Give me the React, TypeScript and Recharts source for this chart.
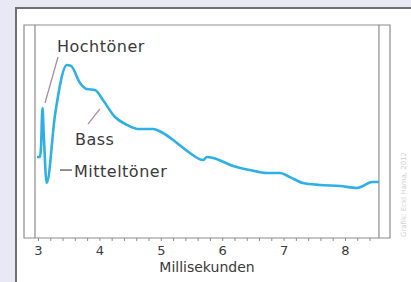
import React from 'react';
import {
  LineChart,
  Line,
  XAxis,
  YAxis,
  ReferenceArea,
  ReferenceLine,
} from 'recharts';

// Zeit in Millisekunden
const ms = [
  2.976, 3.024, 3.04, 3.065, 3.085, 3.134, 3.269, 3.464, 3.529, 3.676, 3.785,
  3.92, 4.05, 4.246, 4.441, 4.62, 4.865, 5.027, 5.255, 5.467, 5.679, 5.744,
  5.842, 6.168, 6.445, 6.721, 6.933, 7.096, 7.308, 7.585, 7.911, 8.188, 8.285,
  8.432, 8.546,
];
// Amplitude (relative Einheiten)
const amplitude = [
  38, 38, 42, 61, 49, 25.8, 57.7, 81.2, 80.8, 72.8, 70, 69.5, 64.8, 56.8, 53.1,
  51.2, 51.2, 49.3, 44.6, 39.9, 36.6, 38, 37.6, 33.8, 31.9, 30.5, 30.5, 28.6,
  25.8, 24.9, 24.4, 23.5, 24.4, 26.3, 26.3,
];
const majorTicks = [3, 4, 5, 6, 7, 8];
const minorTicks = Array.from({ length: 28 }, (_, i) => +(3 + i * 0.2).toFixed(1));

const data = ms.map((t, i) => ({ t, v: amplitude[i] }));

const FRAME = '#8c8c8c';
const NOTE = '#a3919f';
const FONT = '"DejaVu Sans", sans-serif';

const Tick = (props: any) => {
  const { x, y, payload } = props;
  if (!majorTicks.includes(payload.value)) return null;
  return (
    <text
      x={x}
      y={y + 12}
      textAnchor="middle"
      fontSize={13}
      fontFamily={FONT}
      fill="#3a3a3a"
    >
      {payload.value}
    </text>
  );
};

const App = () => {
  return (
    <div
      style={{
        position: 'fixed',
        left: 0,
        top: 0,
        width: 411,
        height: 282,
        background: '#e9e9f5',
        overflow: 'hidden',
      }}
    >
      <div
        style={{
          position: 'absolute',
          left: 15,
          top: 7,
          right: 0,
          bottom: 0,
          background: '#ffffff',
          borderTop: '2px solid #707070',
          borderLeft: '2px solid #707070',
        }}
      />
      <div style={{ position: 'absolute', left: 0, top: 0 }}>
        <LineChart
          width={411}
          height={282}
          data={data}
          margin={{ top: 25, right: 21, bottom: 0, left: 24 }}
        >
          <XAxis
            dataKey="t"
            type="number"
            domain={[2.764, 8.725]}
            allowDataOverflow
            ticks={minorTicks}
            interval={0}
            tick={<Tick />}
            tickSize={3}
            tickLine={{ stroke: FRAME }}
            axisLine={false}
            height={44}
            label={{
              value: 'Millisekunden',
              position: 'insideBottom',
              offset: 10,
              fontSize: 14,
              fontFamily: FONT,
              fill: '#3a3a3a',
            }}
          />
          <YAxis hide domain={[0, 100]} width={0} />
          <ReferenceArea
            x1={2.764}
            x2={8.725}
            y1={0}
            y2={100}
            fill="none"
            stroke={FRAME}
            strokeWidth={1.2}
          />
          <ReferenceLine x={2.943} stroke={FRAME} strokeWidth={1.2} />
          <ReferenceLine x={8.545} stroke={FRAME} strokeWidth={1.2} />
          <ReferenceLine
            segment={[
              { x: 3.106, y: 63.4 },
              { x: 3.318, y: 85 },
            ]}
            stroke={NOTE}
            strokeWidth={1.3}
          />
          <ReferenceLine
            segment={[
              { x: 3.806, y: 53.5 },
              { x: 4.0, y: 60.6 },
            ]}
            stroke={NOTE}
            strokeWidth={1.3}
          />
          <ReferenceLine
            segment={[
              { x: 3.35, y: 31.9 },
              { x: 3.545, y: 31.9 },
            ]}
            stroke="#555"
            strokeWidth={1.3}
          />
          <Line
            dataKey="v"
            type="monotone"
            stroke="#2fb0e4"
            strokeWidth={2.6}
            dot={false}
            isAnimationActive={false}
          />
        </LineChart>
      </div>
      <svg
        width={411}
        height={282}
        style={{ position: 'absolute', left: 0, top: 0, pointerEvents: 'none' }}
      >
        <g fontFamily={FONT} fontSize={16} fill="#3a3a3a" letterSpacing={0.5}>
          <text x={57} y={52}>Hochtöner</text>
          <text x={75} y={145}>Bass</text>
          <text x={74} y={177}>Mitteltöner</text>
        </g>
        <text
          transform="translate(406,237) rotate(-90)"
          fontFamily={FONT}
          fontSize={7}
          fill="#cfcfd6"
        >
          Grafik: Eckl Hama, 2012
        </text>
      </svg>
    </div>
  );
};

export default App;
